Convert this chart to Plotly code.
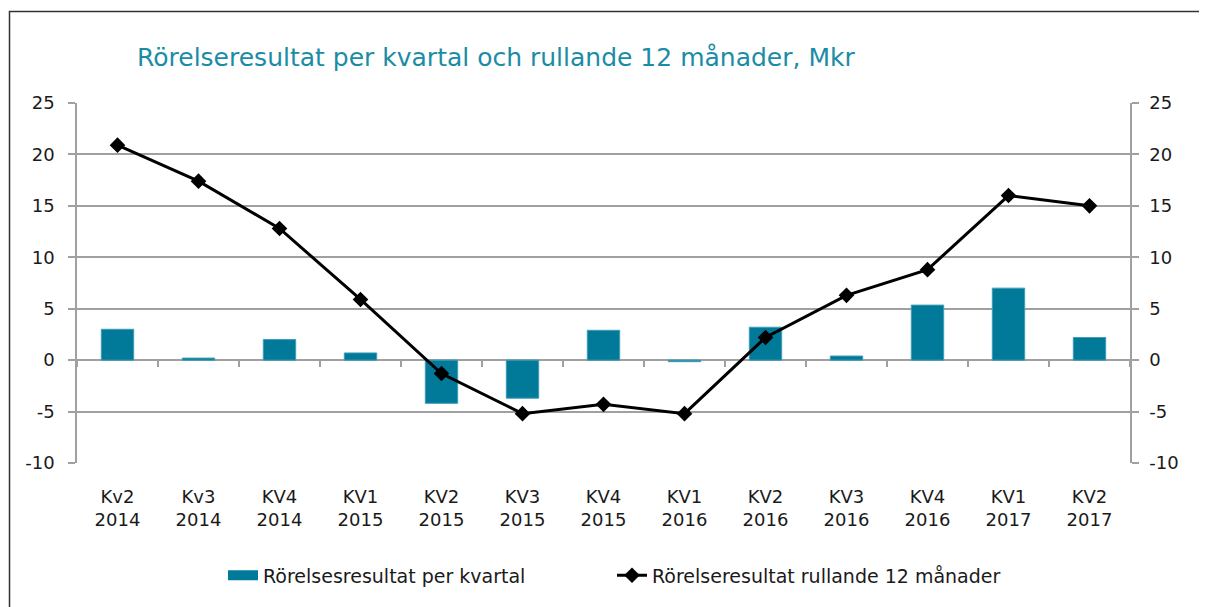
import plotly.graph_objects as go

categories = ["Kv2<br>2014", "Kv3<br>2014", "KV4<br>2014", "KV1<br>2015", "KV2<br>2015",
              "KV3<br>2015", "KV4<br>2015", "KV1<br>2016", "KV2<br>2016", "KV3<br>2016",
              "KV4<br>2016", "KV1<br>2017", "KV2<br>2017"]
kvartal = [3.0, 0.2, 2.0, 0.7, -4.2, -3.7, 2.9, -0.15, 3.2, 0.4, 5.35, 7.0, 2.2]
rullande = [20.9, 17.4, 12.8, 5.9, -1.3, -5.2, -4.3, -5.2, 2.2, 6.3, 8.8, 16.0, 15.0]
y_ticks = [-10, -5, 0, 5, 10, 15, 20, 25]
y_tick_text = ["-10", "-5", "0", "5", "10", "15", "20", "25"]

FONT = "DejaVu Sans"
GRID = "#a0a0a0"
TEAL = "#017a9a"
TXT = "#1a1a1a"
# page body has an 8px margin, so the figure is sized/positioned to compensate
W, H = 1199, 599
ML, MR, MT, MB = 69, 77, 95, 142
plot_w = W - ML - MR
plot_h = H - MT - MB

fig = go.Figure()
fig.add_trace(go.Bar(
    x=categories, y=kvartal, name="Rörelsesresultat per kvartal",
    marker=dict(color=TEAL, line=dict(color="#3f9db5", width=1)),
    width=0.4, showlegend=False,
))
# legend entry for the bars drawn as a wide block
fig.add_trace(go.Scatter(
    x=[None], y=[None], name="Rörelsesresultat per kvartal", mode="lines",
    line=dict(color=TEAL, width=12),
))
fig.add_trace(go.Scatter(
    x=categories, y=rullande, name="Rörelseresultat rullande 12 månader",
    mode="lines+markers",
    line=dict(color="black", width=3),
    marker=dict(symbol="diamond", size=12, color="black"),
))
fig.add_trace(go.Scatter(x=categories, y=rullande, yaxis="y2", showlegend=False,
                         mode="lines", line=dict(width=0), hoverinfo="skip"))
fig.add_trace(go.Scatter(x=categories, y=rullande, xaxis="x2", showlegend=False,
                         mode="lines", line=dict(width=0), hoverinfo="skip"))

zero_frac = 10 / 35

fig.update_layout(
    width=W, height=H,
    margin=dict(l=ML, r=MR, t=MT, b=MB),
    paper_bgcolor="white", plot_bgcolor="white",
    font=dict(family=FONT, size=18, color=TXT),
    title=dict(text="Rörelseresultat per kvartal och rullande 12 månader, Mkr",
               x=129 / W, xanchor="left", y=1 - 49 / H, yanchor="middle",
               font=dict(family=FONT, size=25, color="#1b8ca5")),
    showlegend=True,
    legend=dict(orientation="h", x=(215 - ML) / plot_w, xanchor="left",
                y=-(570 - (H - MB)) / plot_h, yanchor="middle",
                font=dict(family=FONT, size=19, color=TXT),
                entrywidth=344, entrywidthmode="pixels",
                bgcolor="rgba(0,0,0,0)", traceorder="normal"),
    xaxis=dict(type="category", categoryorder="array", categoryarray=categories,
               range=[-0.5, 12.5], showgrid=False, zeroline=False, showline=False,
               ticks="", tickfont=dict(size=18, color=TXT), ticklabelstandoff=21),
    xaxis2=dict(type="category", categoryorder="array", categoryarray=categories,
                range=[-0.5, 12.5], overlaying="x", anchor="free", position=zero_frac,
                side="bottom", showline=False, showgrid=False, zeroline=False,
                ticks="outside", tickson="boundaries", ticklen=6, tickwidth=1.5,
                tickcolor=GRID, showticklabels=False),
    yaxis=dict(range=[-10, 25], tickvals=y_ticks, ticktext=y_tick_text,
               showgrid=True, gridcolor=GRID,
               gridwidth=1.5, zeroline=True, zerolinecolor=GRID, zerolinewidth=2,
               showline=True, linecolor=GRID, linewidth=1.5, ticks="outside",
               ticklen=7, tickwidth=1.5, tickcolor=GRID,
               tickfont=dict(size=18, color=TXT), ticklabelstandoff=10),
    yaxis2=dict(range=[-10, 25], tickvals=y_ticks, ticktext=y_tick_text,
                overlaying="y", side="right",
                showgrid=False, zeroline=False, showline=True, linecolor=GRID,
                linewidth=1.5, ticks="outside", ticklen=7, tickwidth=1.5, tickcolor=GRID,
                tickfont=dict(size=18, color=TXT), ticklabelstandoff=7),
    shapes=[dict(type="rect", xref="paper", yref="paper",
                 x0=-(ML - 1.5) / plot_w, x1=(W - ML - 1) / plot_w,
                 y0=-(MB + 20) / plot_h, y1=1 + (MT - 3) / plot_h,
                 line=dict(color="#333333", width=1.5), fillcolor="rgba(0,0,0,0)",
                 layer="below")],
)

fig.write_html("out.html")
